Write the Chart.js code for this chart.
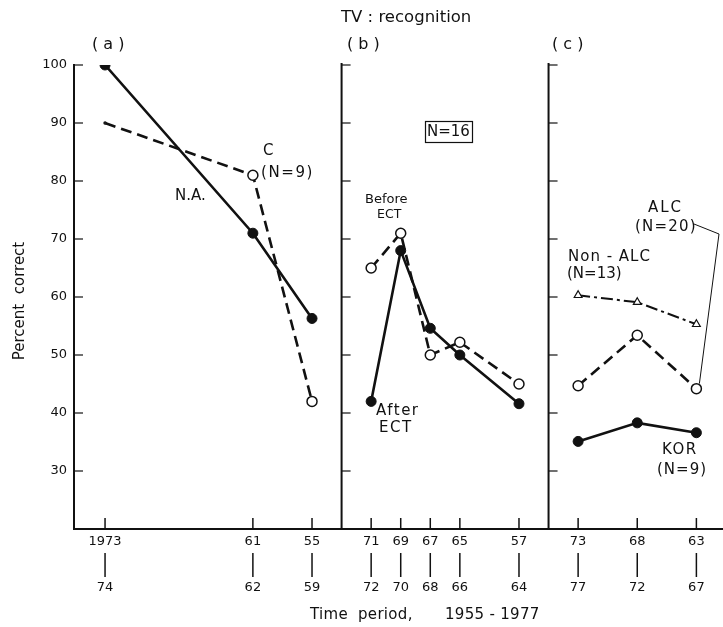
<!DOCTYPE html>
<html>
<head>
<meta charset="utf-8">
<script src="https://cdn.jsdelivr.net/npm/chart.js@4.4.1/dist/chart.umd.min.js"></script>
<style>
  html, body { margin: 0; padding: 0; background: #fff; }
  canvas { display: block; background: #fff; }
</style>
</head>
<body>
<canvas id="tvChart" width="723" height="627"></canvas>
<script>
// slots along the time axis (the original axis is not linear in years)
const slotsA = [1, 6, 8];
const slotsB = [10, 11, 12, 13, 15];
const slotsC = [17, 19, 21];
const dividerSlots = [9, 16];

// two-row tick labels: start year / end year of each period
const topLabels = ['1973', '61', '55', '71', '69', '67', '65', '57', '73', '68', '63'];
const bottomLabels = ['74', '62', '59', '72', '70', '68', '66', '64', '77', '72', '67'];
const allSlots = [...slotsA, ...slotsB, ...slotsC];

// panel (a)
const naValues = [100, 71, 56.3];
const cValues = [90, 81, 42];
// panel (b)
const beforeEct = [65, 71, 50, 52.2, 45];
const afterEct = [42, 68, 54.6, 50, 41.6];
// panel (c)
const nonAlc = [60.3, 59.1, 55.3];
const alc = [44.7, 53.4, 44.2];
const kor = [35.1, 38.3, 36.6];

const yTicks = [30, 40, 50, 60, 70, 80, 90, 100];

const FONT = '"DejaVu Sans", "Liberation Sans", sans-serif';
const INK = '#111';

function pts(slots, vals) {
  return slots.map((s, i) => ({ x: s, y: vals[i] }));
}

function solid(label, slots, vals) {
  return {
    label, data: pts(slots, vals),
    borderColor: INK, borderWidth: 2.6,
    pointRadius: 5, pointBackgroundColor: INK, pointBorderColor: INK, pointBorderWidth: 1
  };
}
function dashed(label, slots, vals, radius) {
  return {
    label, data: pts(slots, vals),
    borderColor: INK, borderWidth: 2.6, borderDash: [11, 6],
    pointRadius: radius || 5, pointBackgroundColor: '#fff', pointBorderColor: INK, pointBorderWidth: 1.5
  };
}

const datasets = [
  solid('N.A.', slotsA, naValues),
  dashed('C (N=9)', slotsA, cValues, [1, 5, 5]),
  dashed('Before ECT', slotsB, beforeEct),
  solid('After ECT', slotsB, afterEct),
  {
    label: 'Non-ALC (N=13)', data: pts(slotsC, nonAlc),
    borderColor: INK, borderWidth: 2, borderDash: [12, 4, 3, 4],
    pointStyle: 'triangle', pointRadius: 4.5, pointBackgroundColor: '#fff', pointBorderColor: INK, pointBorderWidth: 1.2
  },
  dashed('ALC (N=20)', slotsC, alc),
  solid('KOR (N=9)', slotsC, kor)
];

// dividers, inward ticks, period connectors and the figure's text
const panelPlugin = {
  id: 'panels',
  afterDraw(chart) {
    const { ctx, scales: { x, y }, chartArea } = chart;
    ctx.save();
    ctx.strokeStyle = INK;
    ctx.fillStyle = INK;

    // panel dividers
    ctx.lineWidth = 2;
    dividerSlots.forEach(s => {
      const px = x.getPixelForValue(s);
      ctx.beginPath();
      ctx.moveTo(px, y.getPixelForValue(100) - 2);
      ctx.lineTo(px, chartArea.bottom);
      ctx.stroke();
    });

    // inward y ticks on each panel's left edge
    ctx.lineWidth = 1.2;
    [chartArea.left, ...dividerSlots.map(s => x.getPixelForValue(s))].forEach(px => {
      yTicks.forEach(v => {
        const py = y.getPixelForValue(v);
        ctx.beginPath();
        ctx.moveTo(px, py);
        ctx.lineTo(px + 9, py);
        ctx.stroke();
      });
    });

    // upward x ticks and the bars joining the two label rows
    allSlots.forEach(s => {
      const px = x.getPixelForValue(s);
      ctx.lineWidth = 1.5;
      ctx.beginPath();
      ctx.moveTo(px, chartArea.bottom);
      ctx.lineTo(px, chartArea.bottom - 11);
      ctx.stroke();
      ctx.beginPath();
      ctx.moveTo(px, chartArea.bottom + 24);
      ctx.lineTo(px, chartArea.bottom + 48);
      ctx.stroke();
    });

    // texts
    const text = (t, px, py, size, spacing, align) => {
      ctx.font = (size || 15) + 'px ' + FONT;
      ctx.letterSpacing = (spacing || 0) + 'px';
      ctx.textAlign = align || 'left';
      ctx.textBaseline = 'middle';
      ctx.fillText(t, px, py);
    };
    text('TV : recognition', 341, 18, 16.5);
    text('( a )', 92, 45, 16);
    text('( b )', 347, 45, 16);
    text('( c )', 552, 45, 16);

    text('C', 263, 151);
    text('(N=9)', 261, 173, 15, 1.6);
    text('N.A.', 175, 196);

    text('N=16', 427, 132, 15);
    ctx.lineWidth = 1.2;
    ctx.strokeRect(425.5, 121.5, 47, 21);

    text('Before', 365, 200, 13);
    text('ECT', 377, 215, 12.5);
    text('After', 376, 411, 15, 1.5);
    text('ECT', 379, 428, 15, 1.5);

    text('Non - ALC', 568, 257, 15, 1);
    text('(N=13)', 567, 274);
    text('ALC', 648, 208, 15, 2);
    text('(N=20)', 635, 227, 15, 1.2);
    text('KOR', 662, 450, 15, 1.5);
    text('(N=9)', 657, 470, 15, 1);

    // leader from the ALC label down to its last point
    ctx.lineWidth = 1;
    ctx.beginPath();
    ctx.moveTo(694, 224);
    ctx.lineTo(719, 234);
    ctx.lineTo(x.getPixelForValue(slotsC[2]) + 3, y.getPixelForValue(alc[2]) - 5);
    ctx.stroke();

    text('Time  period,', 310, 615, 15, 0.3);
    text('1955 - 1977', 445, 615, 15, 0.3);

    ctx.translate(20, 301);
    ctx.rotate(-Math.PI / 2);
    text('Percent  correct', 0, 0, 15, 0, 'center');
    ctx.restore();
  }
};

const ctx = document.getElementById('tvChart').getContext('2d');
const chart = new Chart(ctx, {
  type: 'line',
  data: { datasets },
  options: {
    responsive: false,
    animation: false,
    layout: { autoPadding: false, padding: { top: 65, right: 0, bottom: 0, left: 0 } },
    plugins: { legend: { display: false }, tooltip: { enabled: false } },
    scales: {
      x: {
        type: 'linear',
        min: -0.05,
        max: 21.9,
        afterBuildTicks: s => { s.ticks = allSlots.map(v => ({ value: v })); },
        afterFit: s => { s.height = 98; },
        grid: { drawOnChartArea: false, drawTicks: false },
        border: { color: INK, width: 2 },
        ticks: {
          autoSkip: false, maxRotation: 0, padding: 1,
          color: INK, font: { family: FONT, size: 13, lineHeight: 1.77 },
          callback: v => {
            const i = allSlots.indexOf(v);
            return i < 0 ? '' : [topLabels[i], ' ', bottomLabels[i]];
          }
        }
      },
      y: {
        min: 20,
        max: 100,
        afterFit: s => { s.width = 74; },
        grid: { drawOnChartArea: false, drawTicks: false },
        border: { color: INK, width: 2 },
        ticks: {
          stepSize: 10, padding: 7, color: INK,
          font: { family: FONT, size: 13 },
          callback: v => (yTicks.includes(v) ? v : '')
        }
      }
    }
  },
  plugins: [panelPlugin]
});
</script>
</body>
</html>
